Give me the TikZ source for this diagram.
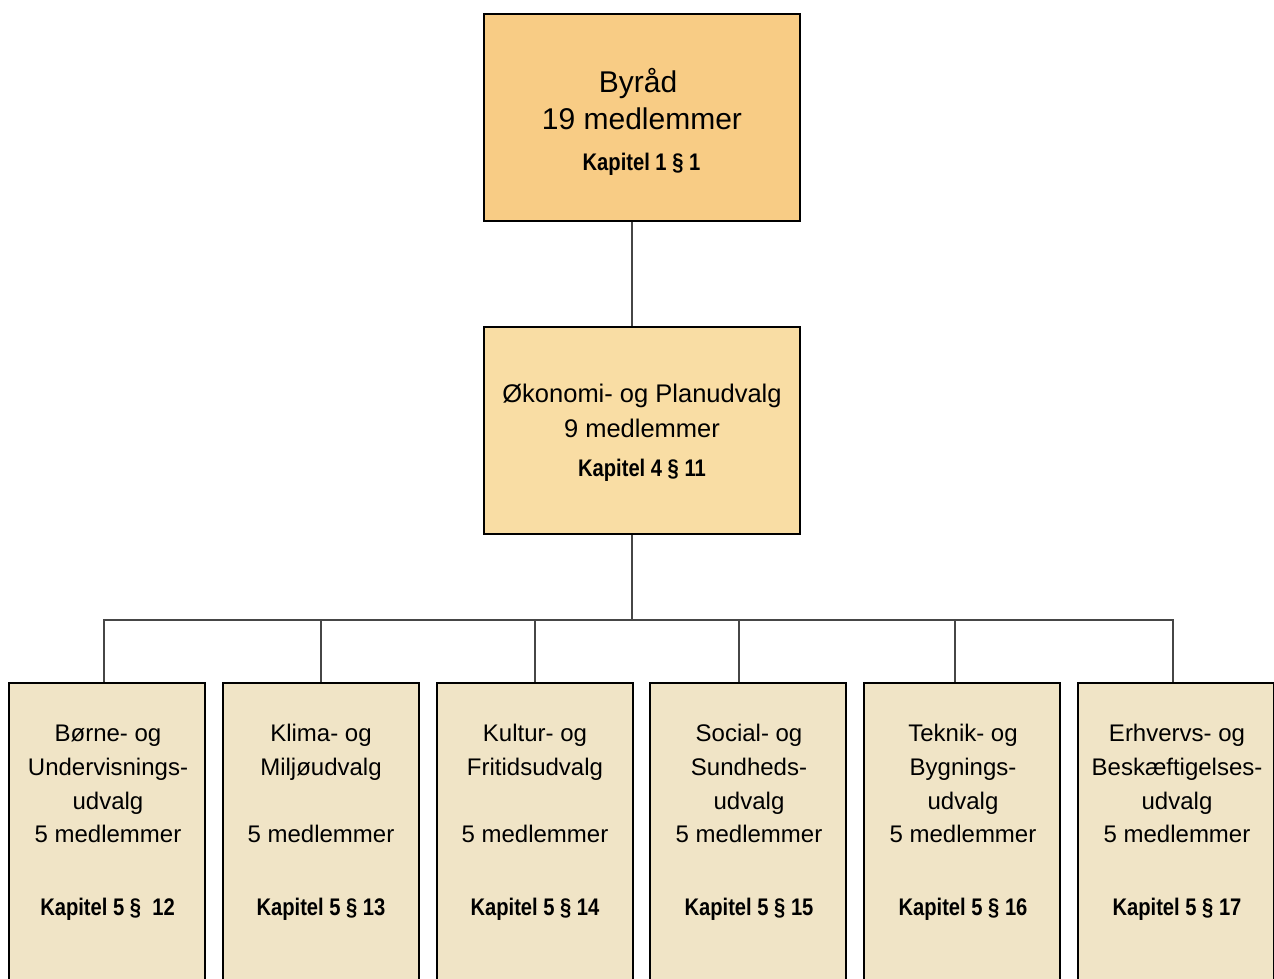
\documentclass[tikz,border=0pt]{standalone}
\usepackage{fontspec}
\setmainfont{Liberation Sans}
\definecolor{topfill}{RGB}{248,204,133}
\definecolor{midfill}{RGB}{249,221,164}
\definecolor{botfill}{RGB}{240,228,198}
\definecolor{connc}{RGB}{70,70,70}
\newcommand\kapx[1]{\scalebox{0.84}[1]{#1}}
\begin{document}
\begin{tikzpicture}[x=1pt,y=-1pt,
  box/.style={draw=black, line width=2.7pt, inner sep=0pt},
  topbox/.style={box, fill=topfill, minimum width=316pt, minimum height=207pt},
  midbox/.style={box, fill=midfill, minimum width=316pt, minimum height=207pt},
  botbox/.style={box, fill=botfill, minimum width=196pt, minimum height=330pt},
  conn/.style={draw=connc, line width=1.3pt},
  txt/.style={anchor=base, inner sep=0pt},
  reg30/.style={txt, font=\fontsize{30}{30}\selectfont},
  reg25/.style={txt, font=\fontsize{25.5}{25.5}\selectfont},
  reg24/.style={txt, font=\fontsize{24}{24}\selectfont},
  kap/.style={txt, font=\fontsize{24}{24}\selectfont\bfseries}]
\path[use as bounding box, clip] (0,0) rectangle (1274,979);
\fill[white] (0,0) rectangle (1274,979);

% boxes
\node[topbox] (top) at (642,117.5) {};
\node[midbox] (mid) at (642,430.5) {};
\node[botbox] (b1) at (107,848) {};
\node[botbox] (b2) at (321,848) {};
\node[botbox] (b3) at (535,848) {};
\node[botbox] (b4) at (748,848) {};
\node[botbox] (b5) at (962,848) {};
\node[botbox] (b6) at (1176,848) {};

% connectors
\coordinate (bus) at (632,620);
\draw[conn] ([xshift=-10pt]top.south) -- ([xshift=-10pt]mid.north);
\draw[conn] ([xshift=-10pt]mid.south) -- (bus);
\draw[conn] ([xshift=-3pt]b1.north) |- (bus);
\draw[conn] (b2.north) |- (bus);
\draw[conn] (b3.north) |- (bus);
\draw[conn] ([xshift=-9pt]b4.north) |- (bus);
\draw[conn] ([xshift=-7pt]b5.north) |- (bus);
\draw[conn] ([xshift=-3pt]b6.north) |- (bus);

% top texts
\node[reg30] (ta) at (638,93) {Byråd};
\node[reg30] (tb) at (642,130) {19 medlemmer};
\node[kap] (tc) at (641.5,170) {\kapx{Kapitel 1 § 1}};
% middle texts
\node[reg25] (ma) at (642,402) {Økonomi- og Planudvalg};
\node[reg25] (mb) at (642,437) {9 medlemmer};
\node[kap] (mc) at (642,476) {\kapx{Kapitel 4 § 11}};

% bottom texts
\node[reg24] (b1a) at (108,741) {Børne- og};
\node[reg24] (b1b) at (108,775) {Undervisnings-};
\node[reg24] (b1c) at (108,809) {udvalg};
\node[reg24] (b1d) at (108,842) {5 medlemmer};
\node[kap] (b1e) at (107.5,915) {\kapx{Kapitel 5 §\ \ 12}};

\node[reg24] (b2a) at (321,741) {Klima- og};
\node[reg24] (b2b) at (321,775) {Miljøudvalg};
\node[reg24] (b2d) at (321,842) {5 medlemmer};
\node[kap] (b2e) at (321,915) {\kapx{Kapitel 5 § 13}};

\node[reg24] (b3a) at (535,741) {Kultur- og};
\node[reg24] (b3b) at (535,775) {Fritidsudvalg};
\node[reg24] (b3d) at (535,842) {5 medlemmer};
\node[kap] (b3e) at (535,915) {\kapx{Kapitel 5 § 14}};

\node[reg24] (b4a) at (749,741) {Social- og};
\node[reg24] (b4b) at (749,775) {Sundheds-};
\node[reg24] (b4c) at (749,809) {udvalg};
\node[reg24] (b4d) at (749,842) {5 medlemmer};
\node[kap] (b4e) at (749,915) {\kapx{Kapitel 5 § 15}};

\node[reg24] (b5a) at (963,741) {Teknik- og};
\node[reg24] (b5b) at (963,775) {Bygnings-};
\node[reg24] (b5c) at (963,809) {udvalg};
\node[reg24] (b5d) at (963,842) {5 medlemmer};
\node[kap] (b5e) at (963,915) {\kapx{Kapitel 5 § 16}};

\node[reg24] (b6a) at (1177,741) {Erhvervs- og};
\node[reg24] (b6b) at (1177,775) {Beskæftigelses-};
\node[reg24] (b6c) at (1177,809) {udvalg};
\node[reg24] (b6d) at (1177,842) {5 medlemmer};
\node[kap] (b6e) at (1177,915) {\kapx{Kapitel 5 § 17}};
\end{tikzpicture}
\end{document}
